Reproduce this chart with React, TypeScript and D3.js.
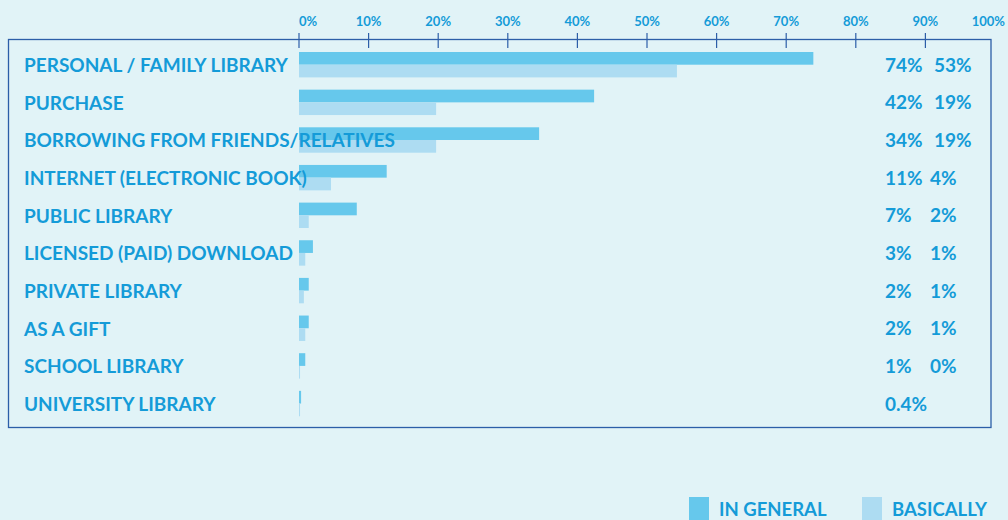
import React from "react";
import * as d3 from "d3";

const categories = [
  "PERSONAL / FAMILY LIBRARY",
  "PURCHASE",
  "BORROWING FROM FRIENDS/RELATIVES",
  "INTERNET (ELECTRONIC BOOK)",
  "PUBLIC LIBRARY",
  "LICENSED (PAID) DOWNLOAD",
  "PRIVATE LIBRARY",
  "AS A GIFT",
  "SCHOOL LIBRARY",
  "UNIVERSITY LIBRARY",
];
// bar lengths as drawn in the picture (percent)
const inGeneral = [73.9, 42.4, 34.5, 12.6, 8.3, 2.0, 1.4, 1.4, 0.9, 0.3];
const basically = [54.3, 19.7, 19.7, 4.6, 1.4, 0.9, 0.7, 0.9, 0.15, 0.15];
// printed labels
const inGeneralLabels = ["74%", "42%", "34%", "11%", "7%", "3%", "2%", "2%", "1%", "0.4%"];
const basicallyLabels = ["53%", "19%", "19%", "4%", "2%", "1%", "1%", "1%", "0%", ""];
const ticks = [0, 10, 20, 30, 40, 50, 60, 70, 80, 90, 100];
const seriesNames = ["IN GENERAL", "BASICALLY"];

const W = 1008;
const H = 520;
const BG = "#e1f3f7";
const TEXT = "#149bd8";
const C_GEN = "#66c8ec";
const C_BAS = "#addcf2";
const FRAME = "#2c5ea8";
const FONT = "Lato, 'Open Sans', sans-serif";

export default function App() {
  const x = d3.scaleLinear().domain([0, 100]).range([299, 995]);
  const y = d3
    .scaleBand<string>()
    .domain(categories)
    .range([52, 416.25])
    .paddingInner(0.3254)
    .paddingOuter(0);
  const sub = d3
    .scaleBand<string>()
    .domain(["g", "b"])
    .range([0, y.bandwidth()]);
  const color = d3.scaleOrdinal<string, string>().domain(seriesNames).range([C_GEN, C_BAS]);

  return (
    <svg
      width={W}
      height={H}
      style={{ position: "absolute", left: 0, top: 0, display: "block" }}
      fontFamily={FONT}
    >
      <rect x={0} y={0} width={W} height={H} fill={BG} />
      {/* frame */}
      <rect x={8.5} y={39.5} width={982.5} height={388} fill="none" stroke={FRAME} strokeWidth={1.3} />
      {/* top axis */}
      {ticks.map((t) => (
        <g key={t}>
          {t < 100 && (
            <line x1={x(t)} x2={x(t)} y1={33} y2={48} stroke={FRAME} strokeWidth={1.2} />
          )}
          <text
            x={t === 0 ? x(t) : t === 100 ? x(t) + 10 : x(t)}
            y={26}
            textAnchor={t === 0 ? "start" : t === 100 ? "end" : "middle"}
            fontSize={13}
            fontWeight={700}
            fill={TEXT}
          >
            {t}%
          </text>
        </g>
      ))}
      {/* bars */}
      {categories.map((c, i) => (
        <g key={c}>
          <rect
            x={x(0)}
            y={(y(c) as number) + (sub("g") as number)}
            width={x(inGeneral[i]) - x(0)}
            height={sub.bandwidth()}
            fill={C_GEN}
          />
          <rect
            x={x(0)}
            y={(y(c) as number) + (sub("b") as number)}
            width={x(basically[i]) - x(0)}
            height={sub.bandwidth()}
            fill={C_BAS}
          />
        </g>
      ))}
      {/* category labels */}
      {categories.map((c) => (
        <text
          key={c}
          x={24}
          y={(y(c) as number) + y.bandwidth() / 2 + 7.5}
          fontSize={19}
          fontWeight={700}
          fill={TEXT}
        >
          {c}
        </text>
      ))}
      {/* value labels */}
      {categories.map((c, i) => (
        <g key={c}>
          <text
            x={885}
            y={(y(c) as number) + y.bandwidth() / 2 + 7}
            fontSize={19}
            fontWeight={700}
            fill={TEXT}
          >
            {inGeneralLabels[i]}
          </text>
          <text
            x={basicallyLabels[i].length >= 3 ? 934 : 930}
            y={(y(c) as number) + y.bandwidth() / 2 + 7}
            fontSize={19}
            fontWeight={700}
            fill={TEXT}
          >
            {basicallyLabels[i]}
          </text>
        </g>
      ))}
      {/* legend */}
      {seriesNames.map((s, i) => {
        const lx = i === 0 ? 689 : 862;
        return (
          <g key={s}>
            <rect x={lx} y={497} width={20} height={23} fill={color(s)} />
            <text x={lx + 30} y={515.5} fontSize={18.5} fontWeight={700} fill={TEXT}>
              {s}
            </text>
          </g>
        );
      })}
    </svg>
  );
}
